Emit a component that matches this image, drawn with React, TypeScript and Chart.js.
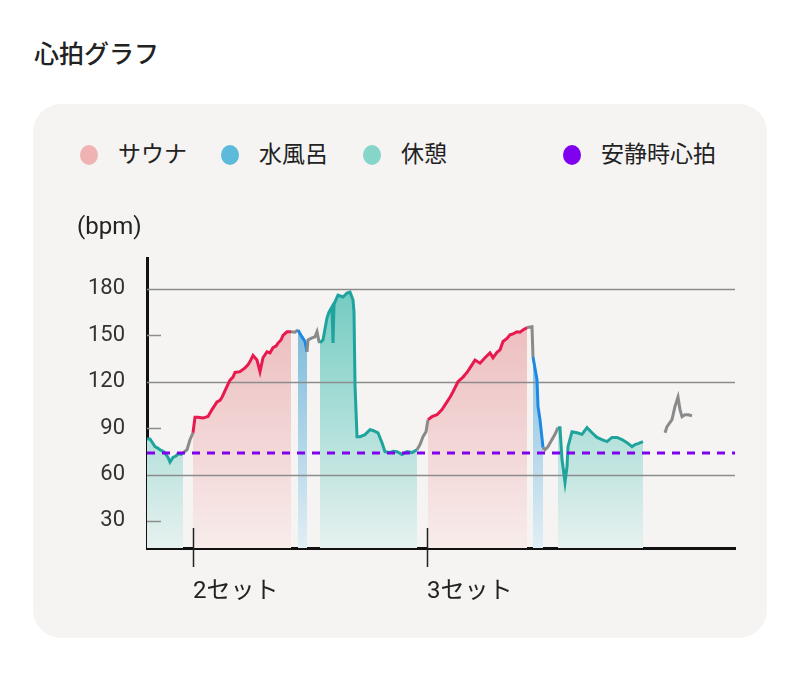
import React, { useEffect, useRef } from 'react';
import { Chart, registerables } from 'chart.js';

Chart.register(...registerables);

// ---- text ----
const TITLE = '心拍グラフ';
const Y_UNIT = '(bpm)';
const legendLabels = ['サウナ', '水風呂', '休憩', '安静時心拍'];
const legendColors = ['#efb3b3', '#5ebadb', '#86d5cb', '#8000f0'];

// ---- axes ----
const X_MIN = 0;
const X_MAX = 147; // minutes
const Y_MIN = 12.5;
const Y_MAX = 200;
const yTickValues = [30, 60, 90, 120, 150, 180];
const yGridValues = [60, 120, 180];
const yShortTickValues = [30, 90, 150];
const xTickValues = [11.5, 70];
const xTickLabels = ['2セット', '3セット'];

// ---- resting heart rate ----
const RESTING_HR = 74;

// ---- heart-rate samples (minutes, bpm); null = no data ----
const times = [
  0, 0.75, 1.25, 2, 2.75, 3.25, 4, 4.5, 5.25, 5.75, 6.5, 7.25, 7.75, 8.5, 9,
  10, 10.75, 11.5,
  12, 12.75, 14, 15.25, 16.25, 17.5, 18.25, 18.75, 20, 20.75, 21.5, 22, 23.25, 24.5, 25.25, 25.75, 26.5, 27.5, 28.25, 29, 30, 30.75, 31.5, 32.25, 32.75, 33.5, 34, 35, 36,
  37,
  37.75, 38.75, 39.5, 40,
  40.25, 41.25, 42, 42.5, 43,
  43.25, 44, 45, 45.5, 46.25, 46.5, 46.75, 47, 47.75, 49, 50, 50.75, 51.5, 51.75, 52, 52.5, 53.25, 54.5, 55.75, 56.5, 57.75, 58.75, 59.5, 60.75, 61.5, 62.5, 63.75, 65, 66.25, 67.5,
  68.25, 69, 69.75,
  70.25, 71.25, 72.5, 73.75, 75, 75.75, 76.5, 77.75, 79, 80, 80.75, 82, 83.25, 84.5, 85.75, 86.5, 87.5, 88.25, 89, 90, 90.75, 91.5, 92.5, 93.25, 94, 95,
  96.25,
  96.5, 97.5, 97.75, 98.25, 99,
  99.5, 100.25, 101.25, 102,
  102.75, 103.25, 103.75, 104, 104.5, 105, 105.25, 106.25, 107.5, 108.75, 110, 111.25, 112.5, 113.75, 115, 116.25, 117.5, 118.75, 120, 121.25, 122, 122.75, 124,
  126,
  129.5, 130, 131.25, 132, 132.75, 133.25, 133.75, 134.5, 135.25, 136.25,
];
const bpm: (number | null)[] = [
  83, 83, 81, 78, 77, 76, 75, 74, 71, 68, 71, 72, 73.5, 73, 74,
  76, 82.5, 87,
  97, 97, 96.5, 97.5, 102, 107, 108, 110, 117, 121, 123, 126, 126.5, 129, 131, 133, 137, 134, 126.5, 135.5, 139.4, 138.7, 142, 143, 145, 147, 150, 152.3, 152.3,
  152,
  153.5, 149, 146, 139.4,
  147, 148.4, 149, 152.3, 146,
  145.2, 147, 161.3, 165, 168.4, 145, 170, 171.6, 176, 174.8, 177.4, 178, 173, 165, 118, 84.5, 84.5, 85.8, 89, 88.5, 87, 80.6, 74.8, 74.2, 75, 74.8, 73, 74.8, 74.2, 76,
  79.4, 84.5, 87.7,
  95.5, 97.4, 98.7, 102, 107, 110, 113.5, 120, 123, 126, 129, 134, 132, 135.5, 138.7, 135.5, 139, 140.6, 146, 148, 150.3, 151, 152.3, 152, 153.5, 155,
  155.5,
  136, 121.3, 104, 95.5, 77.4,
  76, 78, 82.6, 86,
  90.3, 90.3, 69.7, 65, 55, 65, 78, 87.7, 87, 86, 90.3, 87, 84, 82.6, 81.3, 84, 84, 82.6, 80.6, 78, 79.4, 80, 81.3,
  null,
  87, 91, 95.5, 104, 110, 102, 97.4, 98.7, 98.7, 98,
];

// ---- phases ----
const phaseKinds = ['rest', 'sauna', 'water', 'rest', 'sauna', 'water', 'rest'];
const phaseStart = [0, 11.5, 37.75, 43.25, 70.25, 96.5, 102.75];
const phaseEnd = [9, 36, 40, 67.5, 95, 99, 124];

const lineColors: Record<string, string> = {
  sauna: '#e8194f',
  water: '#1e88e5',
  rest: '#1fa39d',
  none: '#8a8a8a',
};
const fillTop: Record<string, string> = {
  sauna: '#eab0b3',
  water: '#5dabd2',
  rest: '#65c7bc',
};
const fillBottom: Record<string, string> = {
  sauna: '#f7ecea',
  water: '#e1eef5',
  rest: '#e6f1ef',
};

const FONT = "Roboto, 'Noto Sans CJK JP', sans-serif";

function phaseAt(t: number): string {
  for (let i = 0; i < phaseKinds.length; i++) {
    if (t >= phaseStart[i] && t <= phaseEnd[i]) return phaseKinds[i];
  }
  return 'none';
}

const points = times.map((t, i) => ({ x: t, y: bpm[i] }));

const decorPlugin = {
  id: 'decor',
  beforeDatasetDraw(chart: any, args: any) {
    if (chart.data.datasets[args.index].label !== 'hr') return;
    const { ctx, chartArea, scales } = chart;
    const y = scales.y;
    ctx.save();
    ctx.strokeStyle = '#8c8c8c';
    ctx.lineWidth = 1.5;
    for (const v of yGridValues) {
      const py = Math.round(y.getPixelForValue(v)) + 0.5;
      ctx.beginPath();
      ctx.moveTo(chartArea.left, py);
      ctx.lineTo(chartArea.right, py);
      ctx.stroke();
    }
    for (const v of yShortTickValues) {
      const py = Math.round(y.getPixelForValue(v)) + 0.5;
      ctx.beginPath();
      ctx.moveTo(chartArea.left, py);
      ctx.lineTo(chartArea.left + 14, py);
      ctx.stroke();
    }
    ctx.restore();
  },
  afterDraw(chart: any) {
    const { ctx, chartArea, scales } = chart;
    const x = scales.x;
    ctx.save();
    ctx.strokeStyle = '#222';
    ctx.lineWidth = 1.5;
    for (const v of xTickValues) {
      const px = Math.round(x.getPixelForValue(v)) + 0.5;
      ctx.beginPath();
      ctx.moveTo(px, chartArea.bottom - 20);
      ctx.lineTo(px, chartArea.bottom + 19);
      ctx.stroke();
    }
    ctx.restore();
  },
};

function HeartChart() {
  const ref = useRef<HTMLCanvasElement | null>(null);
  useEffect(() => {
    if (!ref.current) return;
    const gradientFor = (kind: string) => (c: any) => {
      const area = c.chart.chartArea;
      if (!area) return fillBottom[kind];
      const g = c.chart.ctx.createLinearGradient(0, area.top, 0, area.bottom);
      g.addColorStop(0, fillTop[kind]);
      g.addColorStop(1, fillBottom[kind]);
      return g;
    };
    const fillSets = phaseKinds.map((kind, i) => ({
      label: 'fill-' + i,
      data: points.filter((p) => p.x >= phaseStart[i] && p.x <= phaseEnd[i] && p.y !== null),
      borderWidth: 0,
      pointRadius: 0,
      fill: 'start',
      backgroundColor: gradientFor(kind),
      order: 2,
    }));
    const chart = new Chart(ref.current, {
      type: 'line',
      data: {
        datasets: [
          {
            label: 'resting',
            data: [
              { x: X_MIN, y: RESTING_HR },
              { x: X_MAX, y: RESTING_HR },
            ],
            borderColor: legendColors[3],
            borderWidth: 3,
            borderDash: [8, 7],
            pointRadius: 0,
            fill: false,
            order: 0,
          },
          {
            label: 'hr',
            data: points,
            borderWidth: 3,
            pointRadius: 0,
            fill: false,
            spanGaps: false,
            borderColor: lineColors.none,
            segment: {
              borderColor: (c: any) =>
                lineColors[phaseAt((c.p0.parsed.x + c.p1.parsed.x) / 2)],
            },
            order: 1,
          },
          ...fillSets,
        ] as any,
      },
      options: {
        animation: false,
        responsive: false,
        layout: { padding: { top: 58, right: 32, left: 0, bottom: 0 } },
        plugins: { legend: { display: false }, tooltip: { enabled: false } },
        scales: {
          x: {
            type: 'linear',
            min: X_MIN,
            max: X_MAX,
            grid: { color: 'transparent', drawTicks: false },
            border: { color: '#111', width: 3 },
            afterBuildTicks: (s: any) => {
              s.ticks = xTickValues.map((v) => ({ value: v }));
            },
            afterFit: (s: any) => {
              s.height = 82;
            },
            ticks: {
              align: 'start',
              padding: 30,
              maxRotation: 0,
              autoSkip: false,
              color: '#222',
              font: { family: FONT, size: 24 },
              callback: (v: any) => {
                const i = xTickValues.indexOf(Number(v));
                return i >= 0 ? xTickLabels[i] : '';
              },
            },
          },
          y: {
            type: 'linear',
            min: Y_MIN,
            max: Y_MAX,
            grid: { color: 'transparent', drawTicks: false },
            border: { color: '#111', width: 3 },
            afterBuildTicks: (s: any) => {
              s.ticks = yTickValues.map((v) => ({ value: v }));
            },
            afterFit: (s: any) => {
              s.width = 114;
            },
            ticks: {
              padding: 22,
              color: '#333',
              font: { family: FONT, size: 22 },
            },
          },
        },
      } as any,
      plugins: [decorPlugin],
    });
    return () => chart.destroy();
  }, []);
  return <canvas ref={ref} width={734} height={430} style={{ position: 'absolute', left: 0, top: 96, width: 734, height: 430 }} />;
}

export default function App() {
  const legendX = [80, 221, 363, 563];
  return (
    <div style={{ position: 'fixed', left: 0, top: 0, width: 800, height: 683, background: '#fff', fontFamily: FONT, color: '#222' }}>
      <div style={{ position: 'absolute', left: 34, top: 38, fontSize: 25, fontWeight: 500, lineHeight: '34px', whiteSpace: 'nowrap' }}>{TITLE}</div>
      <div style={{ position: 'absolute', left: 33, top: 104, width: 734, height: 534, borderRadius: 28, background: '#f5f4f3' }}>
        <HeartChart />
      </div>
      {legendLabels.map((l, i) => (
        <div key={l} style={{ position: 'absolute', left: legendX[i], top: 139, height: 32, display: 'flex', alignItems: 'center', whiteSpace: 'nowrap' }}>
          <span style={{ display: 'inline-block', width: 18, height: 20, borderRadius: '50%', background: legendColors[i], marginRight: 20 }} />
          <span style={{ fontSize: 23, lineHeight: '32px', color: '#222' }}>{l}</span>
        </div>
      ))}
      <div style={{ position: 'absolute', left: 77, top: 210, fontSize: 24, lineHeight: '32px', color: '#222', whiteSpace: 'nowrap' }}>{Y_UNIT}</div>
    </div>
  );
}
